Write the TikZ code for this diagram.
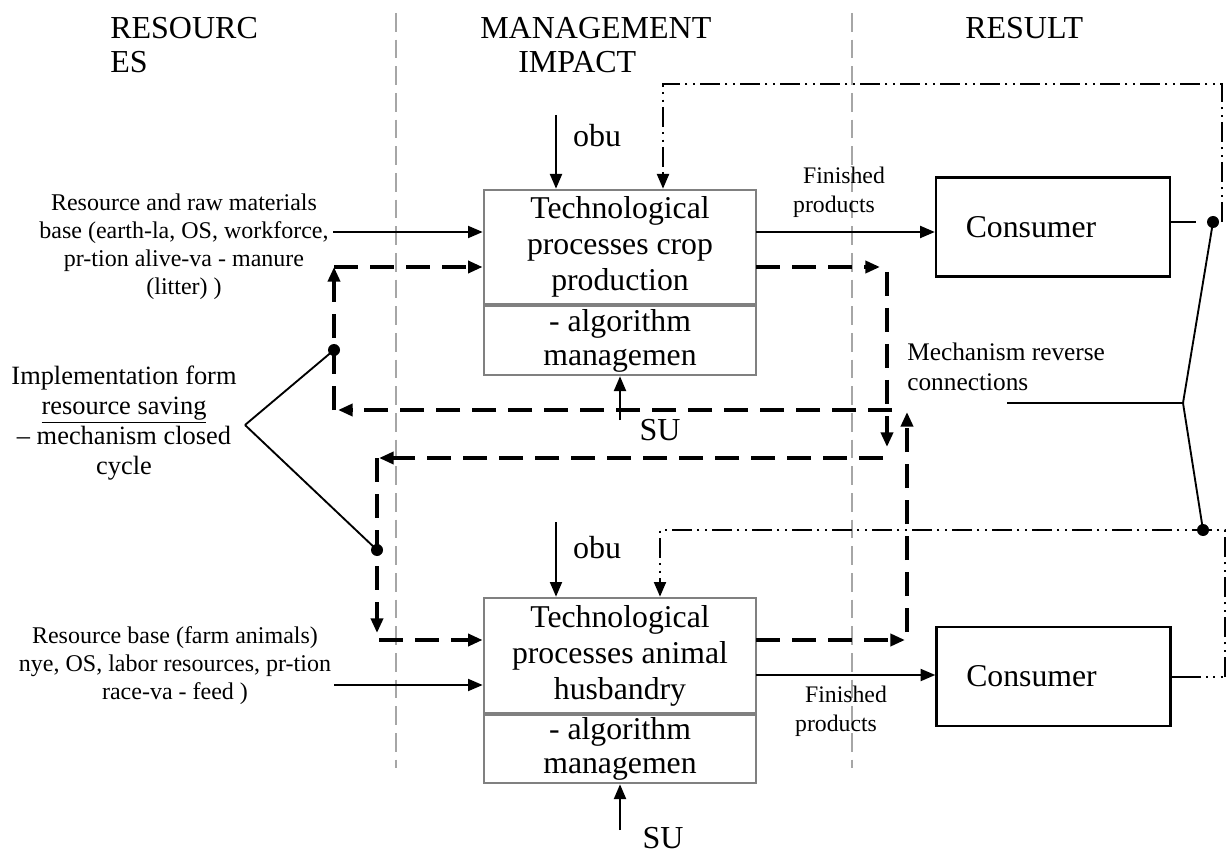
\documentclass[tikz,border=0pt]{standalone}
\usepackage{fontspec}
\setmainfont{Liberation Serif}
\usetikzlibrary{arrows.meta,calc}
\newcommand\hdfont{\fontsize{24}{26}\selectfont}
\newcommand\bxfont{\fontsize{23.8}{27}\selectfont}
\newcommand\sbfont{\fontsize{23.8}{25.5}\selectfont}
\newcommand\lbfont{\fontsize{18}{21}\selectfont}
\newcommand\imfont{\fontsize{19.8}{22.5}\selectfont}
\newcommand\mcfont{\fontsize{19}{22}\selectfont}
\newcommand\fpfont{\fontsize{17.8}{22}\selectfont}
\begin{document}
\begin{tikzpicture}[x=0.75pt,y=-0.75pt,
  tri/.style={-{Triangle[length=11pt,width=9pt]}},
  thinln/.style={line width=1.4pt},
  thickdash/.style={line width=3pt,dash pattern=on 18pt off 9pt},
  dashdot/.style={line width=1.5pt,dash pattern=on 15pt off 4pt on 1.5pt off 4pt on 1.5pt off 4pt},
  dotln/.style={line width=1.5pt,dash pattern=on 1.5pt off 4pt},
  grayline/.style={draw=black!35,line width=1.2pt,dash pattern=on 14pt off 6pt},
  procbox/.style={draw=black!50,line width=2pt,minimum width=204pt,inner sep=0pt,align=center},
  conbox/.style={draw=black,line width=1.8pt,minimum width=175.5pt,minimum height=74.25pt,inner sep=0pt,font=\bxfont},
  txt/.style={inner sep=0pt,align=center},
  dotnd/.style={circle,fill=black,inner sep=0pt,minimum size=9pt}
]
\useasboundingbox (0,0) rectangle (1231,855);
% gray column separators
\draw[grayline] (396,13) -- (396,768);
\draw[grayline] (852,13) -- (852,768);

% headers
\node[txt,anchor=west,align=left,font=\hdfont] (hres) at (110,45) {RESOURC\\ES};
\node[txt,anchor=west,align=left,font=\hdfont] (hman) at (480,45) {MANAGEMENT\\\hspace*{28.5pt}IMPACT};
\node[txt,anchor=west,font=\hdfont] (hrsl) at (965,28) {RESULT};

% boxes
\node[procbox,minimum height=85.5pt,font=\bxfont] (crop) at (620,247) {Technological\\processes crop\\production};
\node[procbox,minimum height=51.75pt,font=\sbfont] (alg1) at (620,340.5) {- algorithm\\managemen};
\node[procbox,minimum height=86.25pt,font=\bxfont] (anim) at (620,655.5) {Technological\\processes animal\\husbandry};
\node[procbox,minimum height=51pt,font=\sbfont] (alg2) at (620,749) {- algorithm\\managemen};
\node[conbox] (con1) at (1053,227) {Consumer\hspace*{33pt}};
\node[conbox] (con2) at (1053.5,676.5) {Consumer\hspace*{33pt}};

% left labels
\node[txt,font=\lbfont] (res1) at (184,247) {Resource and raw materials\\base (earth-la, OS, workforce,\\pr-tion alive-va - manure\\(litter) )};
\node[txt,font=\imfont] (impl) at (124,423) {Implementation form\\\underline{resource saving}\\– mechanism closed\\cycle};
\node[txt,font=\lbfont] (res2) at (175,666) {Resource base (farm animals)\\nye, OS, labor resources, pr-tion\\race-va - feed )};
\node[txt,font=\fpfont] (fp1) at (844,192) {Finished\\products\hspace*{15pt}};
\node[txt,font=\fpfont] (fp2) at (846,711) {Finished\\products\hspace*{15pt}};
\node[txt,anchor=west,align=left,font=\mcfont] (mech) at (907,367) {Mechanism reverse\\connections};
\node[txt,font=\hdfont] (obu1) at (597,136) {obu};
\node[txt,font=\hdfont] (obu2) at (597,548) {obu};
\node[txt,font=\hdfont] (su1) at (660,430) {SU};
\node[txt,font=\hdfont] (su2) at (663,838) {SU};

% coordinates
\coordinate (o1) at (556,115);
\coordinate (o2) at (556,522);
\coordinate (s1) at (620,420);
\coordinate (s2) at (620,830);
\coordinate (ra) at (333,232);
\coordinate (rb) at (334,685);
\coordinate (fa) at (756,232);
\coordinate (fb) at (756,675);
\coordinate (d1) at (1222,222);
\coordinate (d1t) at (1222,84);
\coordinate (d1l) at (663,84);
\coordinate (d2) at (1225,677);
\coordinate (d2t) at (1225,530);
\coordinate (d2l) at (660,530);
\coordinate (p1) at (1213,222);
\coordinate (p2) at (1203,530);
\coordinate (p3) at (334,350);
\coordinate (p4) at (377,550);
\coordinate (vx) at (1183,403);
\coordinate (vh) at (1007,403);
\coordinate (lv) at (245,425);
% dashed loop coordinates
\coordinate (la) at (334,410);
\coordinate (lb) at (334,267);
\coordinate (lc) at (756,267);
\coordinate (ld) at (880,267);
\coordinate (le) at (887,272);
\coordinate (lf) at (887,447);
\coordinate (lg) at (892,410);
\coordinate (lh) at (338,410);
\coordinate (li) at (883,458);
\coordinate (lj) at (379,458);
\coordinate (lk) at (377,458);
\coordinate (ll) at (377,633);
\coordinate (lm) at (379,640);
\coordinate (ln) at (756,640);
\coordinate (lo) at (905,640);
\coordinate (lp) at (907,632);
\coordinate (lq) at (907,412);

% solid inputs
\draw[thinln,tri] (o1) -- (o1 |- crop.north);
\draw[thinln,tri] (o2) -- (o2 |- anim.north);
\draw[thinln,tri] (s1) -- (s1 |- alg1.south);
\draw[thinln,tri] (s2) -- (s2 |- alg2.south);
\draw[thinln,tri] (ra) -- (ra -| crop.west);
\draw[thinln,tri] (rb) -- (rb -| anim.west);
\draw[thinln,tri] (fa) -- (fa -| con1.west);
\draw[thinln,tri] (fb) -- (fb -| con2.west);

% dash-dot feedback
\draw[dashdot,tri] (d1) -- (d1t) -- (d1l) -- (d1l |- crop.north);
\draw[dashdot,tri] (d2) -- (d2t) -- (d2l) -- (d2l |- anim.north);
\draw[thinln] (con1.east |- p1) -- ++(25,0);
\draw[thinln] (con2.east |- d2) -- ++(27,0) coordinate (dq);
\draw[dotln] (dq) -- (d2);

% thick dashed closed cycle
\draw[thickdash,tri] (la) -- (lb);
\draw[thickdash,tri] (lb) -- (lb -| crop.west);
\draw[thickdash,tri] (lc) -- (ld);
\draw[thickdash,tri] (le) -- (lf);
\draw[thickdash,tri] (lg) -- (lh);
\draw[thickdash,tri] (li) -- (lj);
\draw[thickdash,tri] (lk) -- (ll);
\draw[thickdash,tri] (lm) -- (lm -| anim.west);
\draw[thickdash,tri] (ln) -- (lo);
\draw[thickdash,tri] (lp) -- (lq);

% bracket lines
\draw[thinln] (lv) -- (p3);
\draw[thinln] (lv) -- (p4);
\draw[thinln] (p1) -- (vx) -- (p2);
\draw[thinln] (vh) -- (vx);

% dots
\node[dotnd] (k1) at (p1) {};
\node[dotnd] (k2) at (p2) {};
\node[dotnd] (k3) at (p3) {};
\node[dotnd] (k4) at (p4) {};
\end{tikzpicture}
\end{document}
